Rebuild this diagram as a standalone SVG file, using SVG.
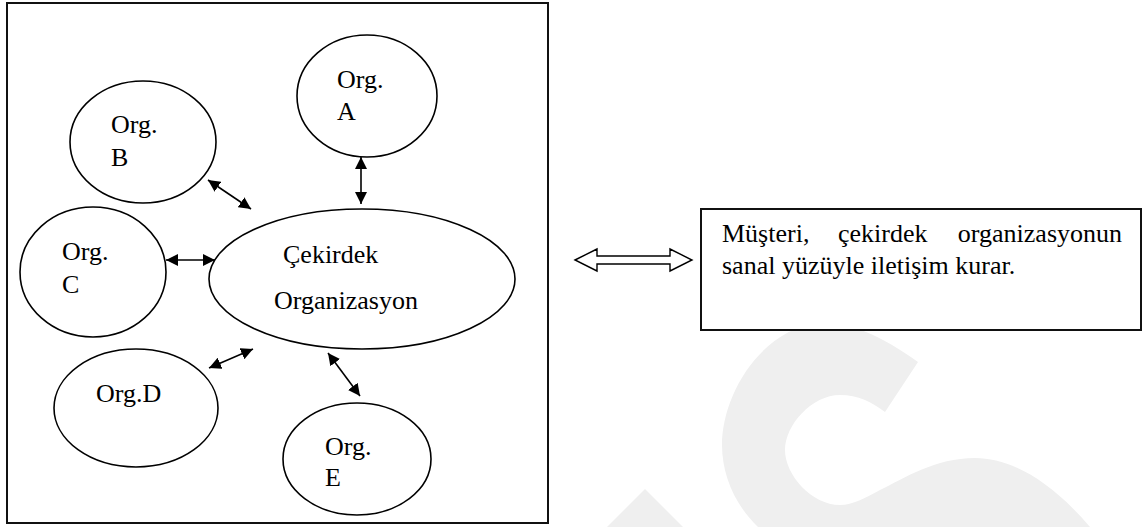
<svg xmlns="http://www.w3.org/2000/svg" width="1146" height="527" viewBox="0 0 1146 527">
  <style>
    .frame { fill: none; stroke: #111; stroke-width: 2; }
    .box { fill: #fff; stroke: #111; stroke-width: 2; }
    .org { fill: #fff; stroke: #000; stroke-width: 1.6; }
    .link { stroke: #000; stroke-width: 1.6; fill: none; marker-start: url(#head); marker-end: url(#head); }
    .lbl { font-family: "Liberation Serif", "Times New Roman", serif; font-size: 26px; fill: #000; }
    .wm { fill: #efefef; }
  </style>
  <defs>
    <marker id="head" viewBox="0 0 12 12" refX="12" refY="6" markerWidth="12" markerHeight="12" markerUnits="userSpaceOnUse" orient="auto-start-reverse">
      <path d="M0,0 L12,6 L0,12 Z" fill="#000"/>
    </marker>
  </defs>

  <rect width="1146" height="527" fill="#fff"/>

  <!-- light background mark -->
  <g id="watermark">
    <path class="wm" d="M918,362 C880,335 850,322 820,322 C760,330 722,395 722,445 C722,475 735,505 758,527 L1090,527 C1050,480 1010,458 975,458 C935,458 905,478 880,490 C865,498 853,505 840,505 C812,505 785,475 785,450 C785,425 812,395 840,395 C858,395 872,402 885,412 Z"/>
    <path class="wm" d="M645,489 L607,527 L683,527 Z"/>
  </g>

  <!-- outer frame -->
  <rect class="frame" x="7" y="3" width="541" height="520"/>

  <g id="connectors">
    <line class="link" x1="361" y1="157" x2="361" y2="204"/>
    <line class="link" x1="208" y1="180" x2="251" y2="209"/>
    <line class="link" x1="166" y1="260" x2="215" y2="260"/>
    <line class="link" x1="209" y1="368" x2="253" y2="349"/>
    <line class="link" x1="328" y1="353" x2="360" y2="396"/>
  </g>

  <g id="org-a">
    <ellipse class="org" cx="367" cy="96" rx="70" ry="61"/>
    <text class="lbl" x="337" y="88">Org.</text>
    <text class="lbl" x="337" y="120">A</text>
  </g>

  <g id="org-b">
    <ellipse class="org" cx="143" cy="142" rx="73" ry="61"/>
    <text class="lbl" x="111" y="133">Org.</text>
    <text class="lbl" x="111" y="166">B</text>
  </g>

  <g id="org-c">
    <ellipse class="org" cx="93" cy="272" rx="73" ry="65"/>
    <text class="lbl" x="62" y="260">Org.</text>
    <text class="lbl" x="62" y="293">C</text>
  </g>

  <g id="core">
    <ellipse class="org" cx="362" cy="279" rx="153" ry="70"/>
    <text class="lbl" x="283" y="263">Çekirdek</text>
    <text class="lbl" x="274" y="309">Organizasyon</text>
  </g>

  <g id="org-d">
    <ellipse class="org" cx="136" cy="408" rx="82" ry="59"/>
    <text class="lbl" x="96" y="402">Org.D</text>
  </g>

  <g id="org-e">
    <ellipse class="org" cx="357" cy="459" rx="74" ry="56"/>
    <text class="lbl" x="325" y="455">Org.</text>
    <text class="lbl" x="325" y="486">E</text>
  </g>

  <g id="customer-link">
    <path d="M575,260 L597,249 L597,256 L670,256 L670,249 L692,260 L670,271 L670,264 L597,264 L597,271 Z" fill="#fff" stroke="#000" stroke-width="1.4" stroke-linejoin="miter"/>
  </g>

  <g id="customer-note">
    <rect class="box" x="701" y="209" width="440" height="121"/>
    <text class="lbl" x="722" y="242">Müşteri,</text>
    <text class="lbl" x="838" y="242">çekirdek</text>
    <text class="lbl" x="1122" y="242" text-anchor="end">organizasyonun</text>
    <text class="lbl" x="722" y="274">sanal yüzüyle iletişim kurar.</text>
  </g>
</svg>
